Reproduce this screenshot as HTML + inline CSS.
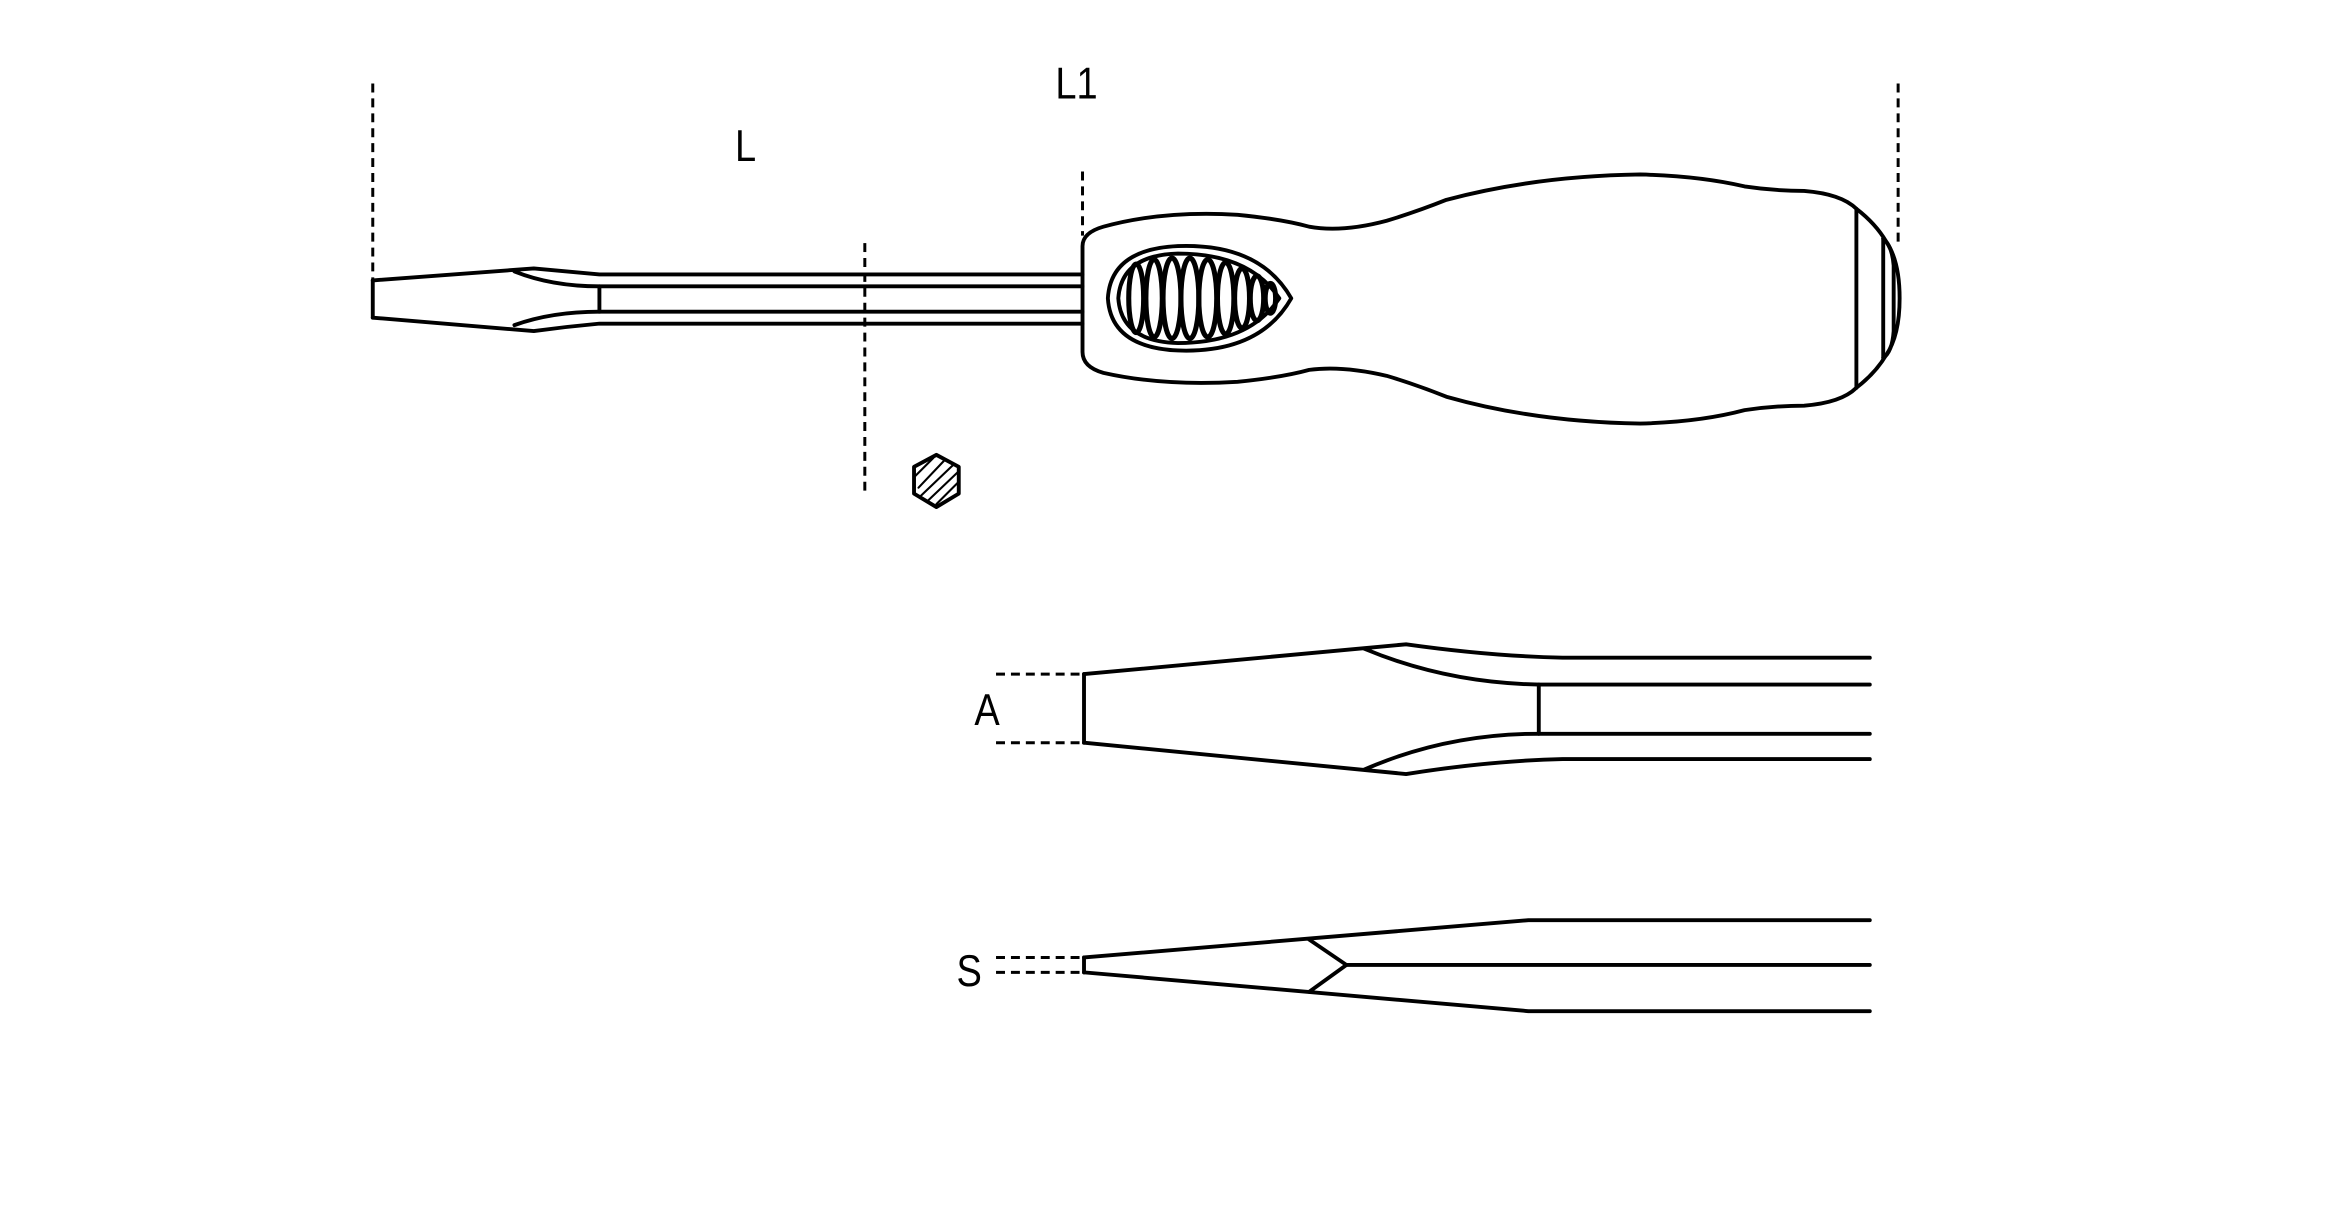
<!DOCTYPE html>
<html><head><style>html,body{margin:0;padding:0;background:#fff}svg{display:block}</style></head>
<body>
<svg width="2338" height="1211" viewBox="0 0 1568 812" preserveAspectRatio="none" xmlns="http://www.w3.org/2000/svg">
<g fill="none" stroke="#000" stroke-width="2.6" stroke-linejoin="round" stroke-linecap="round">
<g stroke-dasharray="6,4" stroke-width="2" stroke-linecap="butt">
<line x1="250" y1="56" x2="250" y2="188"/>
<line x1="1273" y1="56" x2="1273" y2="165"/>
<line x1="726" y1="115" x2="726" y2="158"/>
<line x1="580" y1="163" x2="580" y2="333"/>
<line x1="668" y1="452" x2="727" y2="452"/>
<line x1="668" y1="498" x2="727" y2="498"/>
<line x1="668" y1="642" x2="727" y2="642"/>
<line x1="668" y1="652" x2="727" y2="652"/>
</g>
<path d="M250,188 L358,180 Q380,182 402,184 L726,184"/>
<path d="M250,213 L358,222 Q380,219 402,217 L726,217"/>
<line x1="250" y1="188" x2="250" y2="213"/>
<path d="M345,182 Q370,192 402,192 L726,192"/>
<path d="M345,218 Q370,209 402,209 L726,209"/>
<line x1="402" y1="192" x2="402" y2="209"/>
<path d="M726,165 Q726,156 740,152 Q780,141 830,144 Q860,147 878,152 Q900,156 930,148 Q950,142 970,134 Q1030,118 1100,117 Q1140,118 1170,125 Q1190,128 1210,128 Q1235,130 1245,140 Q1258,150 1265,162 Q1274,175 1274,200 Q1274,225 1265,238 Q1258,250 1245,260 Q1235,270 1210,272 Q1190,272 1170,275 Q1140,283 1100,284 Q1030,283 970,266 Q950,258 930,252 Q900,245 878,248 Q860,253 830,256 Q780,259 740,250 Q726,246 726,236 Z"/>
<line x1="1245" y1="140" x2="1245" y2="260"/>
<path d="M1263,160 Q1269,165 1270,178 L1270,222 Q1269,236 1263,240"/>
<line x1="1263" y1="160" x2="1263" y2="240"/>
<path d="M790,165 Q845,163 866,200 Q845,237 790,235 Q745,233 743,200 Q745,167 790,165 Z"/>
<path d="M790,170 Q838,170 858,200 Q838,230 790,230 Q752,229 750,200 Q752,171 790,170 Z"/>
<g stroke-width="3.4">
<ellipse cx="762" cy="200" rx="5" ry="23"/>
<ellipse cx="774" cy="200" rx="5.5" ry="26"/>
<ellipse cx="786" cy="200" rx="6" ry="27"/>
<ellipse cx="798" cy="200" rx="6" ry="27"/>
<ellipse cx="810" cy="200" rx="6" ry="26"/>
<ellipse cx="822" cy="200" rx="5.5" ry="24"/>
<ellipse cx="833" cy="200" rx="5" ry="20"/>
<ellipse cx="843" cy="200" rx="4.5" ry="15"/>
<ellipse cx="852" cy="200" rx="3.5" ry="10"/>
</g>
<polygon points="628,305 643,313 643,331 628,340 613,331 613,313"/>
<g stroke-width="1.4">
<line x1="616" y1="327" x2="634" y2="308"/>
<line x1="617" y1="333" x2="640" y2="311"/>
<line x1="622" y1="336" x2="643" y2="316"/>
<line x1="628" y1="338" x2="643" y2="323"/>
<line x1="613" y1="320" x2="626" y2="307"/>
</g>
<line x1="727" y1="452" x2="727" y2="498"/>
<path d="M727,452 L943,432 Q1000,440 1048,441 L1254,441"/>
<path d="M727,498 L943,519 Q1000,510 1048,509 L1254,509"/>
<path d="M915,435 Q970,458 1032,459 L1254,459"/>
<path d="M915,516 Q970,492 1032,492 L1254,492"/>
<line x1="1032" y1="459" x2="1032" y2="492"/>
<line x1="727" y1="642" x2="727" y2="652"/>
<path d="M727,642 L1025,617 L1254,617"/>
<path d="M727,652 L1025,678 L1254,678"/>
<path d="M878,630 L903,647 L878,665"/>
<line x1="903" y1="647" x2="1254" y2="647"/>
</g>
<g font-family="Liberation Sans, sans-serif" font-size="30" fill="#000">
<text x="500" y="108" text-anchor="middle" transform="translate(500 0) scale(0.85 1) translate(-500 0)">L</text>
<text x="722" y="66" text-anchor="middle" transform="translate(722 0) scale(0.85 1) translate(-722 0)">L1</text>
<text x="662" y="486" text-anchor="middle" transform="translate(662 0) scale(0.85 1) translate(-662 0)">A</text>
<text x="650" y="661" text-anchor="middle" transform="translate(650 0) scale(0.85 1) translate(-650 0)">S</text>
</g>
</svg>
</body></html>
